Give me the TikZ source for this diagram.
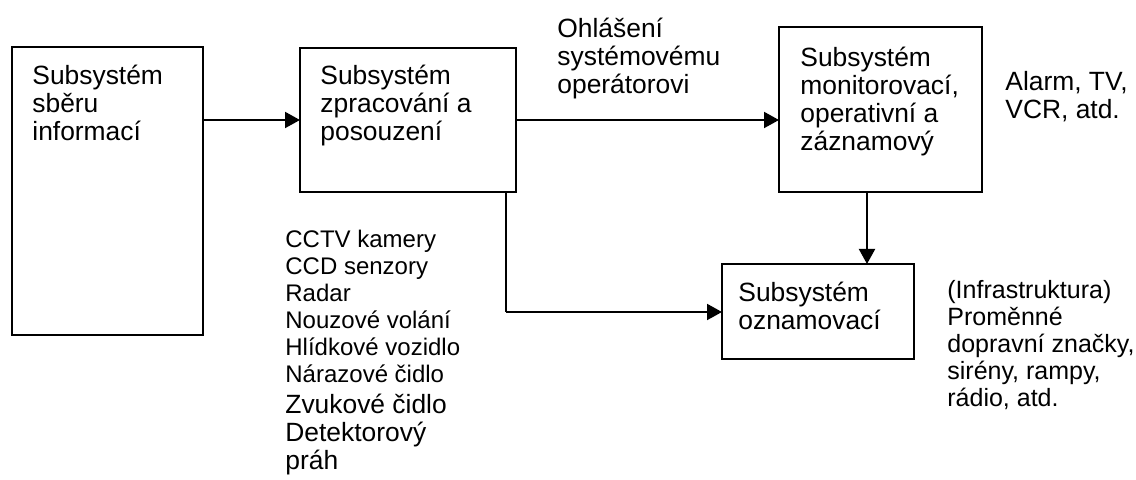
\documentclass[tikz,border=0pt]{standalone}
\usepackage{fontspec}
\setmainfont{Liberation Sans}
\usetikzlibrary{arrows.meta}
\tikzset{
  box/.style={draw, line width=1pt, inner sep=0pt, outer sep=0pt},
  txt/.style={align=left, inner sep=0pt, anchor=base west, font=\fontsize{13.2}{14}\selectfont},
  rtxt/.style={align=left, inner sep=0pt, anchor=base west, font=\fontsize{12.5}{13.5}\selectfont},
  stxt/.style={align=left, inner sep=0pt, anchor=base west, font=\fontsize{12}{13.5}\selectfont},
  conn/.style={line width=1pt, -{Triangle[length=7.5pt,width=8pt]}},
  plain/.style={line width=1pt}
}
\begin{document}
\begin{tikzpicture}[x=0.5pt,y=-0.5pt]
\useasboundingbox (0,0) rectangle (1136,480);
% boxes
\node[box, minimum width=95.5pt, minimum height=144pt, anchor=north west] (b1) at (12,47) {};
\node[box, minimum width=108pt, minimum height=72pt, anchor=north west] (b2) at (300,48) {};
\node[box, minimum width=101.5pt, minimum height=82.5pt, anchor=north west] (b3) at (779,27) {};
\node[box, minimum width=96pt, minimum height=47.5pt, anchor=north west] (b4) at (722,264) {};
% box texts (anchor = baseline of last line)
\node[txt] (t1) at (32,141) {Subsystém\\sběru\\informací};
\node[txt] (t2) at (320,141) {Subsystém\\zpracování a\\posouzení};
\node[txt] (t3) at (800,151) {Subsystém\\monitorovací,\\operativní a\\záznamový};
\node[txt] (t4) at (738,330) {Subsystém\\oznamovací};
% labels
\node[txt] (l1) at (557,94) {Ohlášení\\systémovému\\operátorovi};
\node[txt] (l2) at (1005,119) {Alarm, TV,\\VCR, atd.};
\node[rtxt] (l3) at (947,407) {(Infrastruktura)\\Proměnné\\dopravní značky,\\sirény, rampy,\\rádio, atd.};
\node[stxt] (l4) at (285,383) {CCTV kamery\\CCD senzory\\Radar\\Nouzové volání\\Hlídkové vozidlo\\Nárazové čidlo};
\node[txt] (l5) at (285,470) {Zvukové čidlo\\Detektorový\\práh};
% connectors
\draw[conn] (b1.east |- 0,120) -- (b2.west |- 0,120);
\draw[conn] (b2.east |- 0,120) -- (b3.west |- 0,120);
\draw[conn] (b3.south -| 867,0) -- (b4.north -| 867,0);
\coordinate (c1) at (506,312);
\draw[plain] (b2.south -| c1) -- (c1);
\draw[conn] (c1) -- (b4.west |- c1);
\end{tikzpicture}
\end{document}
